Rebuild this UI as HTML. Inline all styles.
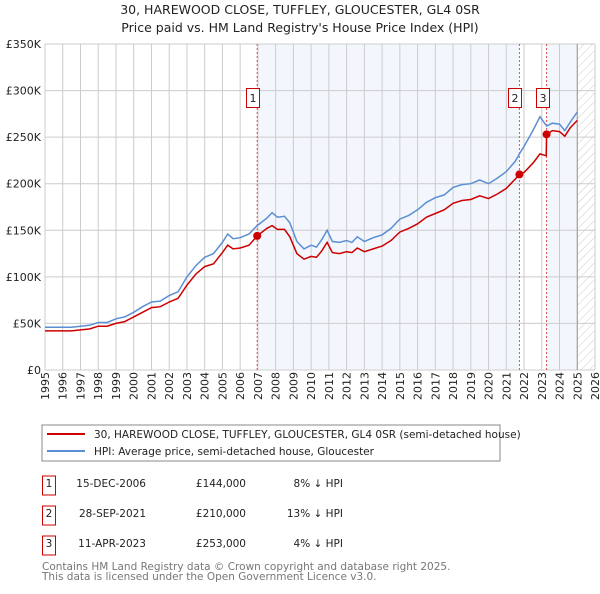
<!DOCTYPE html>
<html><head><meta charset="utf-8"><style>
body{margin:0;background:#fff;font-family:"DejaVu Sans","Liberation Sans",sans-serif;}
svg text{font-family:"DejaVu Sans","Liberation Sans",sans-serif;}
</style></head><body>
<svg id="chart" width="600" height="590" xmlns="http://www.w3.org/2000/svg">
<defs><pattern id="hatch" width="6" height="6" patternUnits="userSpaceOnUse" patternTransform="rotate(45)"><line x1="0" y1="0" x2="0" y2="6" stroke="#ccc" stroke-width="1"/></pattern></defs>
<text x="300" y="14" text-anchor="middle" font-size="12.5" fill="#222">30, HAREWOOD CLOSE, TUFFLEY, GLOUCESTER, GL4 0SR</text>
<text x="300" y="32" text-anchor="middle" font-size="12.5" fill="#222">Price paid vs. HM Land Registry's House Price Index (HPI)</text>
<g id="plot"></g>
<rect x="42" y="425" width="458" height="36" fill="#fff" stroke="#888"/>
<line x1="47" y1="434" x2="85" y2="434" stroke="#cc0000" stroke-width="2"/>
<text x="94" y="438" font-size="10.5" fill="#222">30, HAREWOOD CLOSE, TUFFLEY, GLOUCESTER, GL4 0SR (semi-detached house)</text>
<line x1="47" y1="451" x2="85" y2="451" stroke="#5b8fd4" stroke-width="2"/>
<text x="94" y="455" font-size="10.5" fill="#222">HPI: Average price, semi-detached house, Gloucester</text>
<g font-size="10.5" fill="#222">
<rect x="42.5" y="476" width="13" height="19" fill="#fff" stroke="#cc0000"/>
<text x="49" y="487" text-anchor="middle">1</text>
<text x="146" y="487" text-anchor="end">15-DEC-2006</text>
<text x="246" y="487" text-anchor="end">£144,000</text>
<text x="343" y="487" text-anchor="end">8% ↓ HPI</text>
<rect x="42.5" y="506" width="13" height="19" fill="#fff" stroke="#cc0000"/>
<text x="49" y="517" text-anchor="middle">2</text>
<text x="146" y="517" text-anchor="end">28-SEP-2021</text>
<text x="246" y="517" text-anchor="end">£210,000</text>
<text x="343" y="517" text-anchor="end">13% ↓ HPI</text>
<rect x="42.5" y="536" width="13" height="19" fill="#fff" stroke="#cc0000"/>
<text x="49" y="547" text-anchor="middle">3</text>
<text x="146" y="547" text-anchor="end">11-APR-2023</text>
<text x="246" y="547" text-anchor="end">£253,000</text>
<text x="343" y="547" text-anchor="end">4% ↓ HPI</text>
</g>
<text x="42" y="570" font-size="10.5" fill="#777">Contains HM Land Registry data © Crown copyright and database right 2025.</text>
<text x="42" y="580" font-size="10.5" fill="#777">This data is licensed under the Open Government Licence v3.0.</text>
</svg>
<script>
const yTicks=[0,50,100,150,200,250,300,350];
const yTickLabels=["£0","£50K","£100K","£150K","£200K","£250K","£300K","£350K"];
const xYears=[1995,1996,1997,1998,1999,2000,2001,2002,2003,2004,2005,2006,2007,2008,2009,2010,2011,2012,2013,2014,2015,2016,2017,2018,2019,2020,2021,2022,2023,2024,2025,2026];
const hpiDates=[1995,1995.5,1996,1996.5,1997,1997.5,1998,1998.5,1999,1999.5,2000,2000.5,2001,2001.5,2002,2002.5,2003,2003.5,2004,2004.5,2005,2005.3,2005.6,2006,2006.5,2006.96,2007.5,2007.8,2008.1,2008.5,2008.8,2009.2,2009.6,2010,2010.3,2010.6,2010.9,2011.2,2011.6,2012,2012.3,2012.6,2013,2013.5,2014,2014.5,2015,2015.5,2016,2016.5,2017,2017.5,2018,2018.5,2019,2019.5,2020,2020.5,2021,2021.5,2021.74,2022,2022.5,2022.9,2023.27,2023.6,2024,2024.3,2024.6,2025];
const hpiValues=[46,46,46,46,47,48,51,51,55,57,62,68,73,74,80,84,100,112,121,125,137,146,141,142,146,155,163,169,164,165,158,138,130,134,132,140,150,138,137,139,137,143,138,142,145,152,162,166,172,180,185,188,196,199,200,204,200,206,213,224,232,240,257,272,262,265,264,257,266,277];
const priceDates=[1995,1995.5,1996,1996.5,1997,1997.5,1998,1998.5,1999,1999.5,2000,2000.5,2001,2001.5,2002,2002.5,2003,2003.5,2004,2004.5,2005,2005.3,2005.6,2006,2006.5,2006.96,2007.5,2007.8,2008.1,2008.5,2008.8,2009.2,2009.6,2010,2010.3,2010.6,2010.9,2011.2,2011.6,2012,2012.3,2012.6,2013,2013.5,2014,2014.5,2015,2015.5,2016,2016.5,2017,2017.5,2018,2018.5,2019,2019.5,2020,2020.5,2021,2021.5,2021.74,2022,2022.5,2022.9,2023.25,2023.27,2023.6,2024,2024.3,2024.6,2025];
const priceValues=[42,42,42,42,43,44,47,47,50,52,57,62,67,68,73,77,91,103,111,114,126,134,130,131,134,144,152,155,151,151,143,125,119,122,121,128,137,126,125,127,126,131,127,130,133,139,148,152,157,164,168,172,179,182,183,187,184,189,195,205,210,212,222,232,230,253,257,256,251,260,268];
const saleDates=[2006.96,2021.74,2023.27];
const salePrices=[144,210,253];
const saleLabels=["1","2","3"];

const L=45,R=595,T=44,B=370,X0=1995,X1=2026,YMAX=350;
const sx=v=>L+(v-X0)/(X1-X0)*(R-L);
const sy=v=>B-v/YMAX*(B-T);
const NS="http://www.w3.org/2000/svg";
const g=document.getElementById('plot');
function mk(tag,attrs){const e=document.createElementNS(NS,tag);for(const k in attrs)e.setAttribute(k,attrs[k]);g.appendChild(e);return e;}

let e;
e=mk('rect',{x:sx(saleDates[0]),y:T,width:sx(saleDates[1])-sx(saleDates[0]),height:B-T,fill:'#eef3fc',opacity:0.7});


e=mk('rect',{x:sx(saleDates[2]),y:T,width:sx(2025)-sx(saleDates[2]),height:B-T,fill:'#eef3fc',opacity:0.7});


e=mk('rect',{x:sx(2025),y:T,width:R-sx(2025),height:B-T,fill:'url(#hatch)'});



xYears.forEach(y=>{
 e=mk('line',{x1:sx(y),x2:sx(y),y1:T,y2:B,stroke:'#ccc','stroke-width':1});
 
 
 e=mk('text',{x:0,y:0,transform:`translate(${sx(y)+4},${B+30}) rotate(-90)`,'font-size':11,fill:'#222'});
 e.textContent=y;
 
 
});
yTicks.forEach((v,i)=>{
 e=mk('line',{x1:L,x2:R,y1:sy(v),y2:sy(v),stroke:'#ccc','stroke-width':1});
 
 
 e=mk('text',{x:L-4,y:sy(v)+4,'text-anchor':'end','font-size':11,fill:'#222'});
 e.textContent=yTickLabels[i];
 
 
});
e=mk('line',{x1:sx(2025),x2:sx(2025),y1:T,y2:B,stroke:'#999','stroke-width':1});



saleDates.forEach((d,i)=>{
 e=mk('line',{x1:sx(d),x2:sx(d),y1:T,y2:B,stroke:'#e05050','stroke-width':1,'stroke-dasharray':'2,2'});
 
 
});

const path=(ds,vs)=>ds.map((d,i)=>(i?'L':'M')+sx(d).toFixed(1)+','+sy(vs[i]).toFixed(1)).join('');
e=mk('path',{d:path(hpiDates,hpiValues),fill:'none',stroke:'#5b8fd4','stroke-width':1.5});


e=mk('path',{d:path(priceDates,priceValues),fill:'none',stroke:'#cc0000','stroke-width':1.5});



saleDates.forEach((d,i)=>{
 e=mk('circle',{cx:sx(d),cy:sy(salePrices[i]),r:4,fill:'#cc0000'});
 
 
 const bx=Math.round(sx(d))-11;
 e=mk('rect',{x:bx+0.5,y:88.5,width:13,height:19,fill:'#fff',stroke:'#cc0000'});
 
 
 e=mk('text',{x:bx+7,y:102,'text-anchor':'middle','font-size':11,fill:'#222'});
 e.textContent=saleLabels[i];
 
 
});
</script>
</body></html>
